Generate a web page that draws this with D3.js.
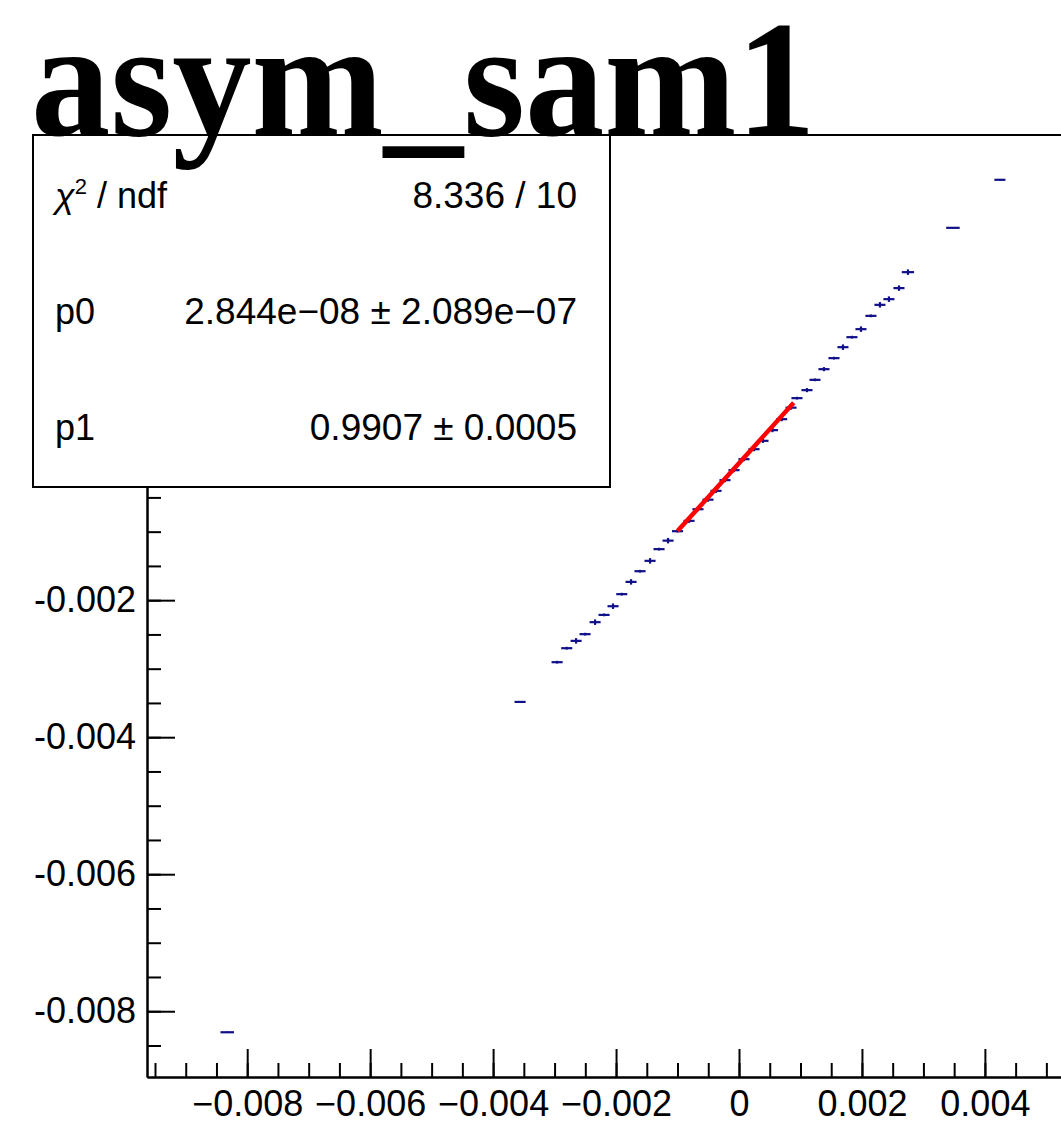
<!DOCTYPE html>
<html>
<head>
<meta charset="utf-8">
<script src="https://cdn.jsdelivr.net/npm/d3@7"></script>
<style>
  body { margin: 0; background: #fff; }
  svg { display: block; }
  .axis text { font-family: "Liberation Sans", Arial, sans-serif; font-size: 36px; fill: #000; }
  .axis path, .axis line { stroke: #000; stroke-width: 2; }
</style>
</head>
<body>
<svg id="chart" width="1061" height="1144"></svg>
<script>
var title = "asym_sam1";

// graph points (x, y) with their errors
var xVals = [-0.008325, -0.003561, -0.002959, -0.002802, -0.002650, -0.002504, -0.002341, -0.002195,
  -0.002049, -0.001907, -0.001756, -0.001610, -0.001447, -0.001301, -0.001154, -0.001000,
  -0.000813, -0.000667, -0.000504, -0.000374, -0.000228, -0.000081, 0.000081, 0.000244,
  0.000390, 0.000545, 0.000694, 0.000846, 0.000943, 0.001106, 0.001236, 0.001382,
  0.001545, 0.001691, 0.001837, 0.001984, 0.002146, 0.002293, 0.002439, 0.002602,
  0.002748, 0.003480, 0.004244];
var yVals = [-0.008307, -0.003485, -0.002905, -0.002701, -0.002594, -0.002496, -0.002321, -0.002215,
  -0.002088, -0.001912, -0.001733, -0.001577, -0.001426, -0.001255, -0.001131, -0.000993,
  -0.000842, -0.000672, -0.000533, -0.000404, -0.000248, -0.000102, 0.000058, 0.000204,
  0.000326, 0.000482, 0.000642, 0.000810, 0.000949, 0.001066, 0.001216, 0.001372,
  0.001533, 0.001693, 0.001839, 0.001956, 0.002150, 0.002311, 0.002394, 0.002555,
  0.002788, 0.003435, 0.004136];
var xErr = [0.00011, 0.00009, 0.00009, 0.00009, 0.00009, 0.00009, 0.00009, 0.00009,
  0.00009, 0.00009, 0.00009, 0.00009, 0.00009, 0.00009, 0.00009, 0.00009,
  0.00009, 0.00009, 0.00009, 0.00009, 0.00009, 0.00009, 0.00009, 0.00009,
  0.00009, 0.00009, 0.00009, 0.00009, 0.00009, 0.00009, 0.00009, 0.00009,
  0.00009, 0.00009, 0.00009, 0.00009, 0.00009, 0.00009, 0.00009, 0.00009,
  0.00010, 0.00011, 0.00009];
var yErr = [0.00001, 0.00001, 0.00002, 0.00002, 0.00004, 0.00002, 0.00004, 0.00002,
  0.00004, 0.00002, 0.00004, 0.00002, 0.00004, 0.00002, 0.00004, 0.00002,
  0.00003, 0.00003, 0.00003, 0.00003, 0.00003, 0.00003, 0.00003, 0.00003,
  0.00003, 0.00003, 0.00003, 0.00003, 0.00002, 0.00003, 0.00002, 0.00003,
  0.00002, 0.00004, 0.00002, 0.00004, 0.00002, 0.00004, 0.00004, 0.00004,
  0.00004, 0.00001, 0.00001];

// linear fit pol1
var fitRange = [-0.001, 0.00089];
var p0 = 2.844e-08, p1 = 0.9907;

var statsLabels = ["χ2 / ndf", "p0", "p1"];
var statsValues = ["8.336 / 10", "2.844e\u221208 \u00b1 2.089e\u221207", "0.9907 \u00b1 0.0005"];

var svg = d3.select("#chart");
svg.append("rect").attr("width", 1061).attr("height", 1144).attr("fill", "#fff");

var x = d3.scaleLinear().domain([-0.00963, 0.00963]).range([147, 1331]);
var y = d3.scaleLinear().domain([-0.00896, 0.00479]).range([1077, 135]);

var fmtX = function(d) { return Math.abs(d) < 1e-12 ? "0" : d3.format(".3f")(d); };
var fmtY = function(d) { return Math.abs(d) < 1e-12 ? "0" : d3.format(".3f")(d).replace("\u2212", "-"); };

// frame top line
svg.append("line")
  .attr("x1", x.range()[0]).attr("x2", x.range()[1])
  .attr("y1", y.range()[1]).attr("y2", y.range()[1])
  .attr("stroke", "#000").attr("stroke-width", 2);

var minorX = d3.range(-19, 20).map(function(i) { return i * 0.0005; });
var minorY = d3.range(-17, 10).map(function(i) { return i * 0.0005; });

svg.append("g").attr("class", "axis")
  .attr("transform", "translate(0," + y.range()[0] + ")")
  .call(d3.axisBottom(x).tickValues(minorX).tickSize(-14).tickSizeOuter(0).tickFormat(""));
svg.append("g").attr("class", "axis")
  .attr("transform", "translate(0," + y.range()[0] + ")")
  .call(d3.axisBottom(x).tickValues(d3.range(-4, 3).map(function(i) { return i * 0.002; }))
    .tickSize(-28).tickSizeOuter(0).tickPadding(13).tickFormat(fmtX));

svg.append("g").attr("class", "axis")
  .attr("transform", "translate(" + x.range()[0] + ",0)")
  .call(d3.axisLeft(y).tickValues(minorY).tickSize(-14).tickSizeOuter(0).tickFormat(""));
svg.append("g").attr("class", "axis")
  .attr("transform", "translate(" + x.range()[0] + ",0)")
  .call(d3.axisLeft(y).tickValues(d3.range(-4, 3).map(function(i) { return i * 0.002; }))
    .tickSize(-28).tickSizeOuter(0).tickPadding(11).tickFormat(fmtY));

// graph with error bars
var pts = xVals.map(function(v, i) {
  return { x: v, y: yVals[i], ex: xErr[i], ey: yErr[i] };
});
var g = svg.append("g").attr("stroke", "#10108a").attr("stroke-width", 2.2);
g.selectAll(".ex").data(pts).enter().append("line")
  .attr("x1", function(d) { return x(d.x - d.ex); })
  .attr("x2", function(d) { return x(d.x + d.ex); })
  .attr("y1", function(d) { return y(d.y); })
  .attr("y2", function(d) { return y(d.y); });
g.selectAll(".ey").data(pts).enter().append("line")
  .attr("x1", function(d) { return x(d.x); })
  .attr("x2", function(d) { return x(d.x); })
  .attr("y1", function(d) { return y(d.y - d.ey); })
  .attr("y2", function(d) { return y(d.y + d.ey); });

// fit function
var line = d3.line()
  .x(function(d) { return x(d); })
  .y(function(d) { return y(p0 + p1 * d); });
svg.append("path")
  .datum(fitRange)
  .attr("d", line)
  .attr("fill", "none")
  .attr("stroke", "#ff0000")
  .attr("stroke-width", 4.5);

// stats box
var box = svg.append("g");
box.append("rect")
  .attr("x", 33).attr("y", 135).attr("width", 577).attr("height", 352)
  .attr("fill", "#fff").attr("stroke", "#000").attr("stroke-width", 2);

var rowY = [208, 324, 440];
statsLabels.forEach(function(lab, i) {
  var t = box.append("text")
    .attr("x", 55).attr("y", rowY[i])
    .attr("font-family", "'Liberation Sans', Arial, sans-serif")
    .attr("font-size", 36);
  if (i === 0) {
    t.append("tspan").attr("font-style", "italic").text("χ");
    t.append("tspan").attr("dy", -14).attr("font-size", 22).text("2");
    t.append("tspan").attr("dy", 14).text(" / ndf");
  } else {
    t.text(lab);
  }
  box.append("text")
    .attr("x", 577).attr("y", rowY[i])
    .attr("text-anchor", "end")
    .attr("font-family", "'Liberation Sans', Arial, sans-serif")
    .attr("font-size", 37)
    .text(statsValues[i]);
});

// title
svg.append("text")
  .attr("x", 31).attr("y", 135)
  .attr("font-family", "'Liberation Serif', 'Times New Roman', serif")
  .attr("font-weight", "bold")
  .attr("font-size", 166)
  .attr("textLength", 785)
  .attr("lengthAdjust", "spacingAndGlyphs")
  .text(title);
</script>
</body>
</html>
